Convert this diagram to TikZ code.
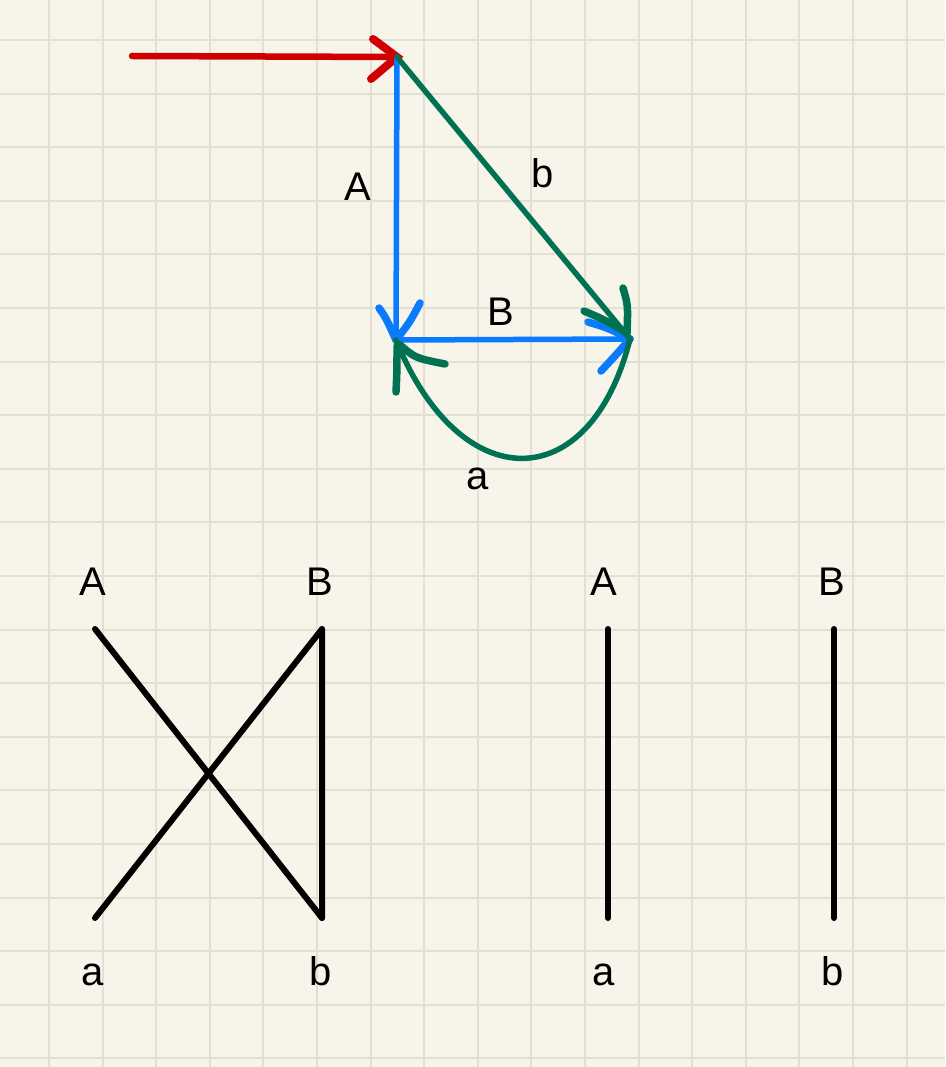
\documentclass[tikz,border=0pt]{standalone}
\usepackage{fontspec}
\setmainfont{Liberation Sans}
\definecolor{paper}{RGB}{247,245,234}
\definecolor{gridc}{RGB}{227,224,211}
\definecolor{penred}{RGB}{208,0,0}
\definecolor{penblue}{RGB}{10,122,255}
\definecolor{pengreen}{RGB}{0,114,82}
\begin{document}
\begin{tikzpicture}[x=1pt,y=-1pt,
  lbl/.style={anchor=base,inner sep=0pt,font=\fontsize{40}{40}\selectfont},
  blackline/.style={draw=black,line width=6pt,line cap=round,line join=round},
  redline/.style={draw=penred,line width=6.5pt,line cap=round},
  redbarb/.style={draw=penred,line width=8pt,line cap=round},
  blueline/.style={draw=penblue,line width=5.5pt,line cap=round},
  bluebarb/.style={draw=penblue,line width=7.5pt,line cap=round},
  greenline/.style={draw=pengreen,line width=5.5pt,line cap=round},
  greenbarb/.style={draw=pengreen,line width=7.5pt,line cap=round}]
\useasboundingbox (0,0) rectangle (945,1067);
\fill[paper] (0,0) rectangle (945,1067);
\foreach \i in {0,...,17} {\draw[gridc,line width=2pt] ({49+53.6*\i},0) -- ({49+53.6*\i},1067);}
\foreach \j in {0,...,19} {\draw[gridc,line width=2pt] (0,{40+53.6*\j}) -- (945,{40+53.6*\j});}

% ---- top figure ----
\coordinate (rs) at (132,56);
\coordinate (P) at (397,57);
\coordinate (Q) at (396,340);
\coordinate (R) at (630,339);

% red arrow
\draw[redline] (rs) -- (P);
\draw[redbarb] (373,39) -- (P) -- (371,79);

% blue A
\draw[blueline] (P) -- (Q);
\draw[bluebarb] (379,308) .. controls (386,318) .. (Q);
\draw[bluebarb] (420,303) .. controls (410,322) .. (Q);
% blue B
\draw[blueline] (Q) -- (R);
\draw[bluebarb] (588,322) .. controls (608,328) .. (R);
\draw[bluebarb] (601,371) .. controls (615,356) .. (R);

% green b
\draw[greenline] (P) -- (R);
\draw[greenbarb] (584,311) .. controls (605,320) .. (627,333);
\draw[greenbarb] (623,288) .. controls (628,305) .. (627,333);

% green a (curve back)
\draw[greenline] (R) .. controls (590,498) and (460,498) .. (Q);
\draw[greenbarb] (445,364) .. controls (415,358) .. (399,344);
\draw[greenbarb] (397,346) .. controls (397,370) .. (396,392);

\node[lbl] (tA) at (358,201) {A};
\node[lbl] (tb) at (543,188) {b};
\node[lbl] (tB) at (501,325) {B};
\node[lbl] (ta) at (478,489) {a};

% ---- bottom left ----
\node[lbl] (lA) at (92.5,595) {A};
\node[lbl] (lB) at (319.5,595) {B};
\node[lbl] (la) at (92.5,985) {a};
\node[lbl] (lb) at (320.5,985) {b};
\coordinate (lA1) at (95,629);
\coordinate (lB1) at (322,629);
\coordinate (la1) at (95,918);
\coordinate (lb1) at (322,918);
\draw[blackline] (lA1) -- (lb1);
\draw[blackline] (la1) -- (lB1) -- (lb1);

% ---- bottom right ----
\node[lbl] (rA) at (604,595) {A};
\node[lbl] (rB) at (832,595) {B};
\node[lbl] (ra) at (604,985) {a};
\node[lbl] (rb) at (833,985) {b};
\coordinate (rA1) at (608,629);
\coordinate (ra1) at (608,918);
\coordinate (rB1) at (834,629);
\coordinate (rb1) at (834,918);
\draw[blackline] (rA1) -- (ra1);
\draw[blackline] (rB1) -- (rb1);
\end{tikzpicture}
\end{document}
